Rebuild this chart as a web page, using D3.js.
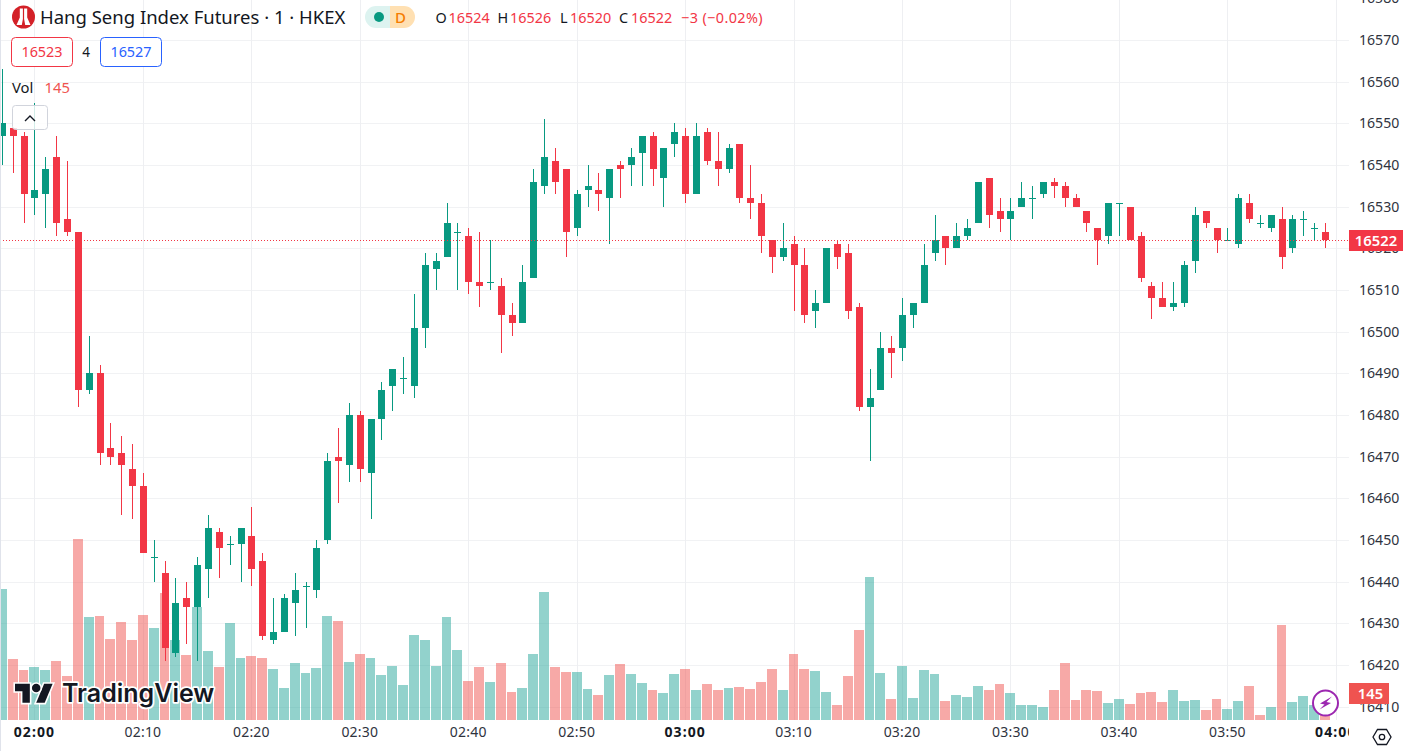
<!DOCTYPE html>
<html>
<head>
<meta charset="utf-8">
<script src="https://cdn.jsdelivr.net/npm/d3@7/dist/d3.min.js"></script>
<style>
html,body{margin:0;padding:0;background:#fff;overflow:hidden}
svg{display:block;font-family:"Noto Sans","Open Sans",sans-serif}
</style>
</head>
<body>
<svg id="c" width="1403" height="751"></svg>
<script>
// minute index, 0 = 02:00; the candles run from -3 to 119
const firstMinute = -3;
const opens = [16547,16549,16547,16532,16533,16542,16527,16524,16486,16490,16472,16471,16467,16463,16446,16442,16423,16436,16434,16443,16452,16449,16449,16451,16445,16426,16428,16435,16439,16438,16450,16470,16468,16480,16466,16479,16487,
16489,16487,16501,16515,16518,16524,16523,16512,16512,16511,16504,16502,16513,16535,16541,16539,16525,16534,16534,16532,16540,16540,16543,16547,16537,16545,16547,16533,16548,16541,16539,16545,16532,16531,16522,16518,16521,16516,16505,16507,16521,16519,16506,16482,16486,16496,16496,16504,16507,16519,16523,16520,16523,16526,16537,16529,16527,16530,16532,16533,16536,16535,16532,16529,16525,16523,16531,16530,16523,16511,16508,16506,16507,16517,16529,16525,16522,16521,16531,16526,16525,16527,16520,16527,16525,16524];
const highs = [16563,16549,16548,16555,16542,16547,16541,16524,16499,16492,16478,16475,16473,16466,16450,16445,16441,16440,16446,16456,16453,16451,16453,16458,16447,16436,16437,16442,16440,16450,16471,16477,16483,16481,16479,16488,16491,
16494,16509,16519,16519,16531,16526,16525,16524,16522,16513,16507,16516,16539,16551,16544,16539,16534,16540,16538,16539,16541,16544,16547,16548,16544,16550,16549,16550,16549,16548,16545,16545,16540,16533,16522,16526,16523,16520,16510,16520,16522,16521,16507,16491,16500,16499,16508,16507,16521,16528,16523,16526,16527,16536,16537,16532,16532,16536,16535,16536,16537,16536,16533,16529,16525,16531,16531,16530,16524,16512,16512,16512,16517,16530,16529,16525,16525,16533,16533,16528,16528,16530,16528,16529,16526,16526];
const lows = [16540,16538,16526,16528,16525,16523,16523,16482,16485,16468,16468,16456,16455,16447,16440,16421,16422,16425,16421,16436,16441,16444,16440,16439,16426,16425,16428,16427,16429,16436,16449,16459,16464,16464,16455,16474,16481,
16485,16484,16496,16510,16518,16510,16509,16506,16510,16495,16499,16502,16513,16533,16533,16518,16523,16530,16529,16521,16532,16535,16535,16535,16530,16542,16531,16533,16540,16535,16538,16531,16527,16519,16514,16517,16505,16502,16501,16507,16515,16503,16481,16469,16486,16489,16493,16501,16507,16517,16516,16520,16522,16526,16525,16524,16522,16530,16527,16532,16532,16530,16530,16524,16516,16521,16523,16522,16512,16503,16506,16505,16506,16514,16525,16519,16522,16520,16526,16525,16524,16515,16519,16523,16522,16520];
const closes = [16550,16547,16533,16534,16539,16526,16524,16486,16490,16471,16470,16468,16463,16447,16446,16424,16435,16434,16444,16453,16448,16449,16453,16443,16427,16428,16436,16438,16439,16448,16469,16469,16480,16467,16479,16486,16491,
16489,16501,16516,16517,16526,16524,16512,16511,16512,16504,16502,16512,16536,16542,16536,16524,16533,16535,16533,16539,16539,16542,16547,16539,16544,16548,16533,16547,16541,16539,16544,16532,16531,16523,16518,16520,16516,16504,16507,16520,16518,16505,16482,16484,16496,16495,16504,16507,16516,16522,16520,16523,16525,16536,16528,16527,16529,16532,16532,16536,16535,16532,16530,16526,16522,16531,16531,16522,16513,16508,16506,16507,16516,16528,16526,16522,16522,16532,16527,16526,16528,16518,16527,16527,16525,16522];
const volumes = [717,334,274,290,274,323,241,990,563,569,443,536,438,574,503,695,438,356,618,377,290,531,339,350,339,279,175,312,257,284,569,542,317,361,339,246,295,191,465,438,295,563,383,213,290,208,312,153,175,361,700,290,263,263,170,137,246,306,252,202,164,148,252,279,164,197,164,175,181,170,208,279,164,361,279,268,153,82,241,492,782,257,115,295,120,274,252,104,137,126,186,164,197,148,82,82,71,164,312,109,164,159,93,115,88,148,153,98,164,104,109,55,115,60,104,186,27,71,520,98,131,82,145];
const dojiFallingVolume = [113];

const priceTicks = d3.range(16410, 16590, 10);
const timeTickMinutes = [0,10,20,30,40,50,60,70,80,90,100,110,120];
const timeTickLabels = ["02:00","02:10","02:20","02:30","02:40","02:50","03:00","03:10","03:20","03:30","03:40","03:50","04:00"];
const boldTimeTicks = ["02:00","03:00","04:00"];
const lastClose = 16522, lastVolume = 145;
const titleText = "Hang Seng Index Futures · 1 · HKEX";
const ohlcLegend = [["O","16524"],["H","16526"],["L","16520"],["C","16522"]];
const changeText = "−3 (−0.02%)";
const sellPrice = "16523", spread = "4", buyPrice = "16527";

const candles = opens.map((o,k)=>({m:firstMinute+k,o,h:highs[k],l:lows[k],c:closes[k],v:volumes[k]}));

const UP="#089981", DOWN="#F23645", UPV="rgba(38,166,154,.5)", DOWNV="rgba(239,83,80,.5)";
const GRIDH="#f1f2f4", GRIDV="#eeeff2", TXT="#2f333e";
const plotW=1349, plotH=720;

const x = d3.scaleLinear().domain([0,120]).range([34.95,1336.35]);
const y = d3.scaleLinear().domain([16520,16570]).range([248.4,40.05]);
const yVol = d3.scaleLinear().domain([0,1000]).range([720,537.2]);
const px = m => Math.floor(x(m));
const py = v => Math.round(y(v));

const svg = d3.select("#c");
svg.append("rect").attr("width",1403).attr("height",751).attr("fill","#fff");
svg.append("defs").append("clipPath").attr("id","plot").append("rect")
   .attr("width",plotW).attr("height",plotH);
svg.append("defs").append("clipPath").attr("id","tax").append("rect")
   .attr("width",plotW).attr("height",751);

// grid
const gridH = svg.append("g").attr("clip-path","url(#plot)");
gridH.selectAll("line").data(priceTicks).join("line")
  .attr("x1",0).attr("x2",plotW)
  .attr("y1",d=>py(d)+.5).attr("y2",d=>py(d)+.5)
  .attr("stroke",GRIDH);
const gridV = svg.append("g").attr("clip-path","url(#plot)");
gridV.selectAll("line").data(timeTickMinutes).join("line")
  .attr("x1",d=>px(d)+.5).attr("x2",d=>px(d)+.5)
  .attr("y1",0).attr("y2",plotH)
  .attr("stroke",GRIDV);

// volume
const isDownVol = d => d.c<d.o || dojiFallingVolume.includes(d.m);
svg.append("g").attr("clip-path","url(#plot)").selectAll("rect").data(candles).join("rect")
  .attr("x",d=>px(d.m)-5)
  .attr("width",d=>Math.min(10,px(d.m+1)-px(d.m)-1))
  .attr("y",d=>Math.round(yVol(d.v)))
  .attr("height",d=>720-Math.round(yVol(d.v)))
  .attr("fill",d=>isDownVol(d)?DOWNV:UPV);

// candles
const cg = svg.append("g").attr("clip-path","url(#plot)");
cg.selectAll("rect.w").data(candles).join("rect").attr("class","w")
  .attr("x",d=>px(d.m)).attr("width",1)
  .attr("y",d=>py(d.h)).attr("height",d=>Math.max(1,py(d.l)-py(d.h)))
  .attr("fill",d=>d.c<d.o?DOWN:UP);
cg.selectAll("rect.b").data(candles).join("rect").attr("class","b")
  .attr("x",d=>px(d.m)-3).attr("width",7)
  .attr("y",d=>py(Math.max(d.o,d.c)))
  .attr("height",d=>Math.max(1,py(Math.min(d.o,d.c))-py(Math.max(d.o,d.c))))
  .attr("fill",d=>d.c<d.o?DOWN:UP);

// last price line
svg.append("line").attr("x1",0).attr("x2",plotW)
  .attr("y1",py(lastClose)+.5).attr("y2",py(lastClose)+.5)
  .attr("stroke",DOWN).attr("stroke-dasharray","1 2");

// left edge
svg.append("rect").attr("width",1).attr("height",751).attr("fill","#e0e3eb");

// price axis
const yAxis = d3.axisRight(y).tickValues(priceTicks).tickSize(0).tickPadding(0).tickFormat(d3.format("d"));
const yg = svg.append("g").attr("transform","translate(1359,0)").call(yAxis);
yg.select(".domain").remove();
yg.selectAll("text").attr("x",0).attr("font-size",14.1).attr("font-family",'"Noto Sans","Open Sans",sans-serif').attr("fill",TXT);

// time axis
const xAxis = d3.axisBottom(x).tickValues(timeTickMinutes).tickSize(0).tickPadding(0)
   .tickFormat((d,k)=>timeTickLabels[k]);
const xg = svg.append("g").attr("clip-path","url(#tax)").append("g").attr("transform","translate(-1,727)").call(xAxis);
xg.select(".domain").remove();
xg.selectAll("text").attr("y",0).attr("dy","0.71em")
  .attr("font-family",'"Noto Sans","Open Sans",sans-serif')
  .attr("font-size",14)
  .attr("letter-spacing",(d,k)=>boldTimeTicks.includes(timeTickLabels[k])?"1.1px":"0.2px")
  .attr("font-weight",(d,k)=>boldTimeTicks.includes(timeTickLabels[k])?700:400)
  .attr("fill",(d,k)=>boldTimeTicks.includes(timeTickLabels[k])?"#131722":TXT);

// price and volume tags
function tag(x0,w,yc,fill,label,shift){
  svg.append("rect").attr("x",x0).attr("y",yc-10.5).attr("width",w).attr("height",21).attr("fill",fill);
  svg.append("text").attr("x",x0+w/2+shift).attr("y",yc+5).attr("text-anchor","middle")
    .attr("font-size",14.8).attr("font-weight",600).attr("fill","#fff").text(label);
}
tag(1349,54,240.5,DOWN,String(lastClose),0);
tag(1349,40,693.5,"#EF5350",String(lastVolume),1.5);

// settings button
const gear = svg.append("g").attr("transform","translate(1382,737)").attr("fill","none").attr("stroke","#131722").attr("stroke-width",1.3);
gear.append("path").attr("d","M-9,0 L-4.5,-7.5 L4.5,-7.5 L9,0 L4.5,7.5 L-4.5,7.5 Z");
gear.append("circle").attr("r",2.7);

// header
svg.append("circle").attr("cx",23.5).attr("cy",17).attr("r",11.5).attr("fill","#D32027");
svg.append("path").attr("fill","#fff")
  .attr("d","M19.8,8.5 L22.9,8.5 L22.9,19 L21.8,25 L16.5,25 L19.8,17.5 Z M24.1,8.5 L27.2,8.5 L27.2,17.5 L30.5,25 L25.2,25 L24.1,19 Z");
const t = (s,xp,yp,fs,fill,anchor)=>svg.append("text").attr("x",xp).attr("y",yp).attr("font-size",fs).attr("fill",fill).attr("text-anchor",anchor||"start").text(s);
t(titleText,40,24,18.5,"#131722");

// status pill
svg.append("path").attr("fill","#ddf3f0").attr("d","M390,6 H376 A11,11 0 0 0 376,28 H390 Z");
svg.append("path").attr("fill","#ffe0b2").attr("d","M390,6 H404 A11,11 0 0 1 404,28 H390 Z");
svg.append("circle").attr("cx",379).attr("cy",17).attr("r",5).attr("fill",UP);
t("D",400.5,23,15,"#f57c00","middle").attr("font-weight",500);

// OHLC legend
const legendX = [[435.5,448.5],[497.5,510],[560,570],[619,631]];
ohlcLegend.forEach(([k,v],n)=>{
  t(k,legendX[n][0],23,14.4,"#131722");
  t(v,legendX[n][1],23,14.4,DOWN);
});
t(changeText,681,23,14.4,DOWN).attr("letter-spacing","0.4px");

// buy / sell boxes
const box=(x0,c,s)=>{
  svg.append("rect").attr("x",x0+.5).attr("y",37.5).attr("width",61).attr("height",29).attr("rx",4)
     .attr("fill","#fff").attr("stroke",c);
  t(s,x0+31,57,14.4,c,"middle");
};
box(11,DOWN,sellPrice);
t(spread,86,57,13.5,"#131722","middle");
box(100,"#2962ff",buyPrice);

// volume legend
t("Vol",12,93,14.8,"#131722");
t(String(lastVolume),44.5,93,14.8,"#EF5350");
svg.append("rect").attr("x",12.5).attr("y",105.5).attr("width",35).attr("height",24).attr("rx",3)
  .attr("fill","rgba(255,255,255,.82)").attr("stroke","#d1d4dc");
svg.append("path").attr("d","M25,121 L30,116 L35,121").attr("fill","none").attr("stroke","#131722").attr("stroke-width",1.4);

// watermark
const logoGlyph = svg.append("g").attr("transform","translate(15,679.5) scale(1.06)");
logoGlyph.selectAll("path").data(["M14 22H7V11H0V4h14v18z","M28 22h-8l7.5-18h8L28 22z"]).join("path")
  .attr("d",d=>d).attr("fill","#131722").attr("stroke","#fff").attr("stroke-width",3).attr("paint-order","stroke");
logoGlyph.append("circle").attr("cx",20).attr("cy",8).attr("r",4).attr("fill","#131722").attr("stroke","#fff").attr("stroke-width",3).attr("paint-order","stroke");
svg.append("text").attr("x",62).attr("y",702).attr("font-family","Inter,sans-serif").attr("font-size",25).attr("font-weight",600)
  .attr("fill","#131722").attr("stroke","#fff").attr("stroke-width",3.5).attr("paint-order","stroke").attr("stroke-linejoin","round").text("TradingView");

// lightning badge
svg.append("circle").attr("cx",1325.5).attr("cy",703).attr("r",12.5).attr("fill","#fff").attr("stroke","#9c27b0").attr("stroke-width",2);
svg.append("path").attr("fill","#9c27b0").attr("d","M1332,696.5 L1320,703.5 L1324.5,704.5 L1319.5,709.5 L1331,703 L1326.5,702 Z");
</script>
</body>
</html>
